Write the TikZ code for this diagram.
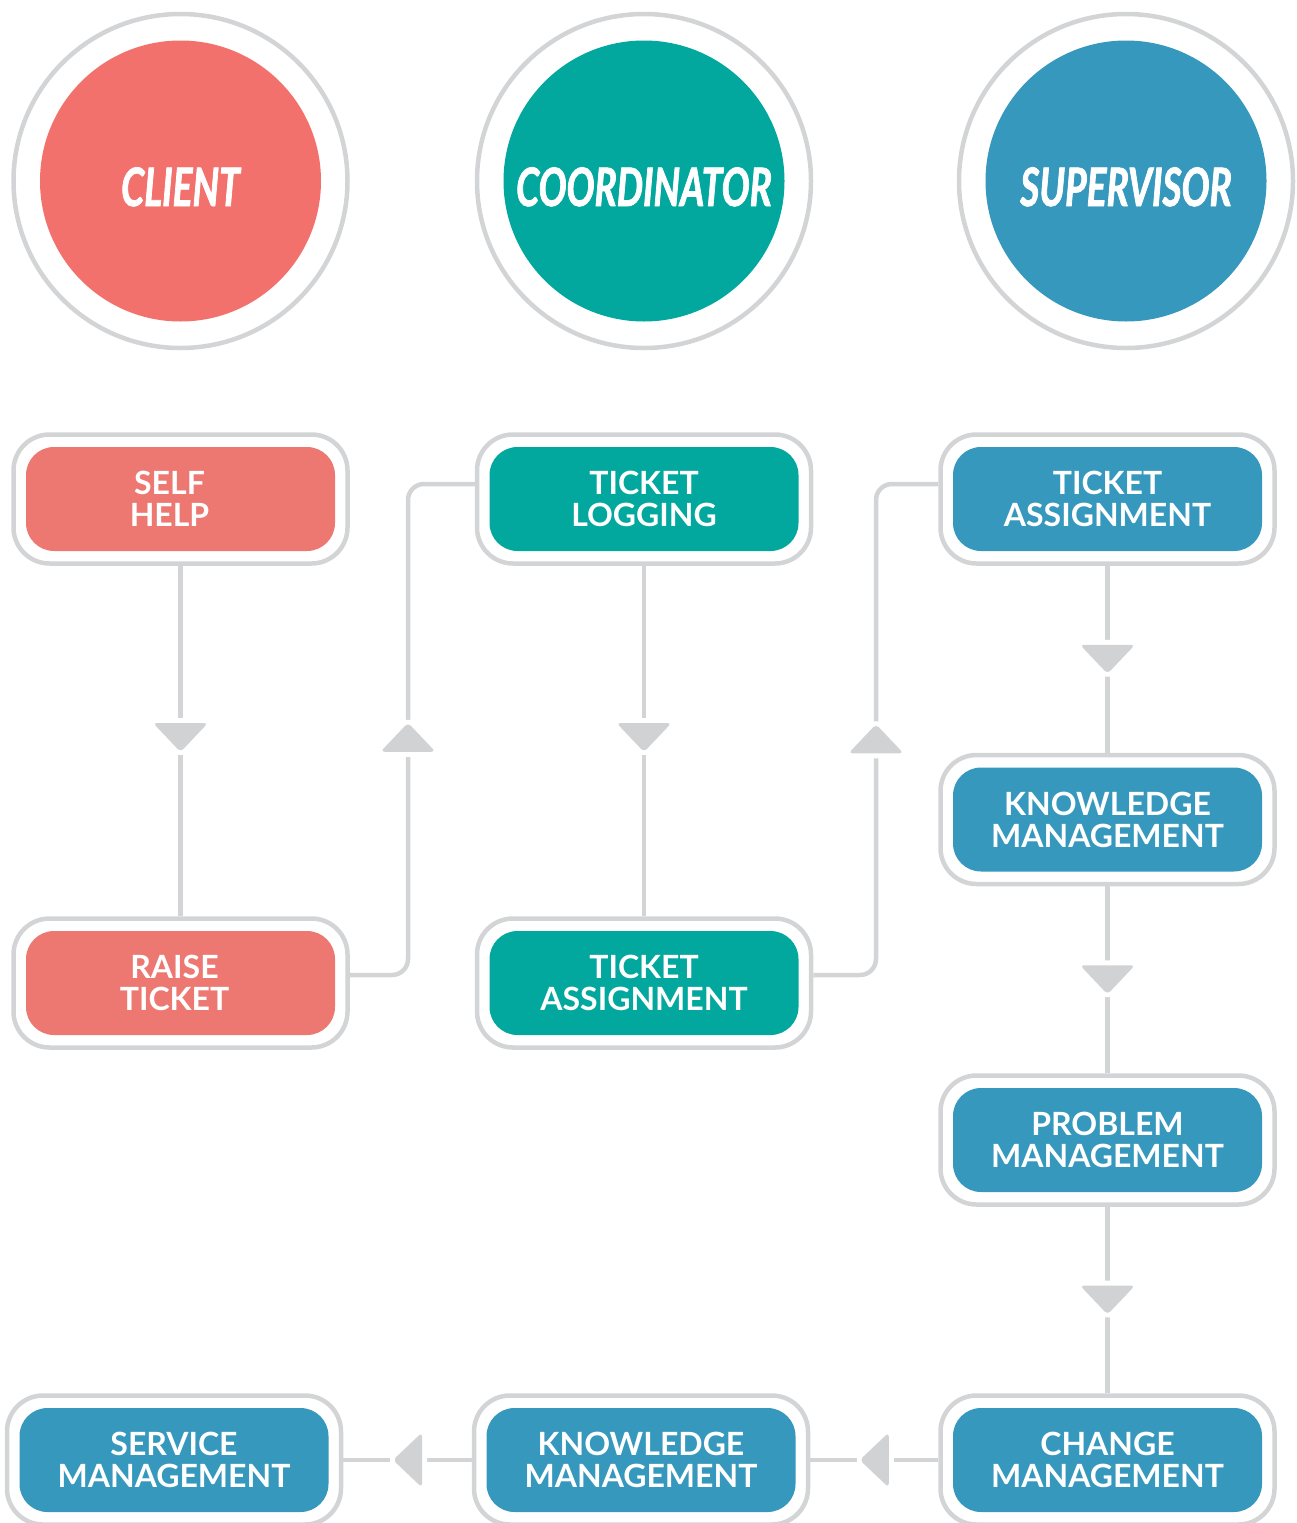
\documentclass[tikz,border=0pt]{standalone}
\usepackage{fontspec}
\setmainfont{Lato}
\newfontfamily\rolefont[FakeStretch=0.70, FakeBold=1.4]{Lato}
\usetikzlibrary{decorations.markings}

\definecolor{clientred}{HTML}{F2716C}
\definecolor{clientbox}{HTML}{ED7872}
\definecolor{coordteal}{HTML}{02A89E}
\definecolor{superblue}{HTML}{3598BC}
\definecolor{ringgray}{HTML}{D3D4D6}
\definecolor{tipgray}{HTML}{D1D2D4}

\begin{document}
\begin{tikzpicture}[x=1pt, y=-1pt, line join=round,
    role/.style={circle, draw=ringgray, line width=4.5pt, minimum size=334pt, inner sep=0pt,
      path picture={\fill[#1] (path picture bounding box.center) circle (140.5pt);},
      text=white, text height=50pt, text depth=0pt,
      font=\rolefont\bfseries\itshape\fontsize{53}{53}\selectfont},
    stage/.style={rectangle, rounded corners=36pt, draw=ringgray, line width=4.5pt,
      minimum width=334pt, minimum height=129pt, inner sep=0pt, align=center,
      path picture={\fill[#1, rounded corners=28pt]
        ([shift={(12.5,12.5)}]path picture bounding box.north west) rectangle
        ([shift={(-12.5,-12.5)}]path picture bounding box.south east);},
      text=white, font=\bfseries\fontsize{32}{32}\selectfont},
    link/.style={draw=ringgray, line width=4.5pt, line cap=butt, postaction={decorate},
      decoration={markings, mark=at position #1 with {
        \fill[tipgray, rounded corners=4pt, preaction={draw=white, line width=10pt}]
          (14.5,0) -- (-14.5,27.5) -- (-14.5,-27.5) -- cycle;}}},
    link/.default=0.5]

  \useasboundingbox (0,0) rectangle (1296,1523);

  % --- ROLURI (CERCURI) ---
  \node[role=clientred] (client) at (180.5,181) {CLIENT};
  \node[role=coordteal] (coord)  at (644,181)   {COORDINATOR};
  \node[role=superblue] (super)  at (1126,181)  {SUPERVISOR};

  % --- ETAPE CLIENT ---
  \node[stage=clientbox] (selfhelp) at (180.5,499) {\hspace*{-22pt}SELF\\\hspace*{-22pt}HELP};
  \node[stage=clientbox] (raise)    at (180.5,983) {\hspace*{-12pt}RAISE\\\hspace*{-12pt}TICKET};

  % --- ETAPE COORDINATOR ---
  \node[stage=coordteal] (logging) at (644,499) {TICKET\\LOGGING};
  \node[stage=coordteal] (assign)  at (644,983) {TICKET\\ASSIGNMENT};

  % --- ETAPE SUPERVISOR ---
  \node[stage=superblue] (supassign) at (1107.5,499)  {TICKET\\ASSIGNMENT};
  \node[stage=superblue] (knowledge) at (1107.5,819.5) {KNOWLEDGE\\MANAGEMENT};
  \node[stage=superblue] (problem)   at (1107.5,1140) {PROBLEM\\MANAGEMENT};
  \node[stage=superblue] (change)    at (1107.5,1460) {CHANGE\\MANAGEMENT};
  \node[stage=superblue] (knowbase)  at (641,1460)    {KNOWLEDGE\\MANAGEMENT};
  \node[stage=superblue] (service)   at (174,1460)    {SERVICE\\MANAGEMENT};

  % --- LEGATURI ---
  \draw[link=0.49] (selfhelp) -- (raise);
  \draw[link=0.49] (logging) -- (assign);
  \draw[link] (supassign) -- (knowledge);
  \draw[link] (knowledge) -- (problem);
  \draw[link] (problem) -- (change);
  \draw[link] (change) -- (knowbase);
  \draw[link] (knowbase) -- (service);

  % --- LEGATURI INTRE COLOANE ---
  \draw[link=0.48, rounded corners=16pt] ([yshift=8pt]raise.east) -| (408,739) |- ([yshift=15pt]logging.west);
  \draw[link=0.485, rounded corners=16pt] ([yshift=8pt]assign.east) -| (876,739) |- ([yshift=15pt]supassign.west);

\end{tikzpicture}
\end{document}
